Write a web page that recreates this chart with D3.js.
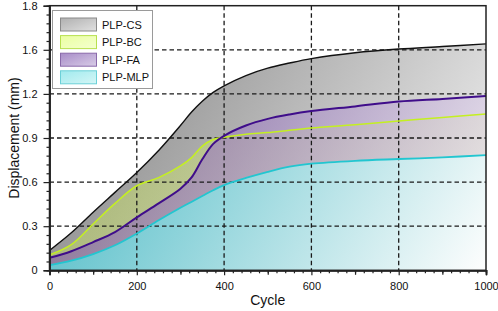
<!DOCTYPE html>
<html><head><meta charset="utf-8">
<script src="https://cdn.jsdelivr.net/npm/d3@7/dist/d3.min.js"></script>
<style>body{margin:0;background:#fff;}svg{display:block;font-family:"Liberation Sans",Arial,sans-serif;}</style>
</head><body><svg id="c" width="498" height="311"></svg>
<script>
const cycles = [0,50,100,150,200,250,300,325,350,375,400,450,500,550,600,700,800,900,1000];
const cs  = [0.135,0.255,0.395,0.53,0.665,0.815,0.985,1.075,1.15,1.21,1.255,1.325,1.375,1.41,1.44,1.48,1.505,1.522,1.54];
const bc  = [0.105,0.175,0.315,0.455,0.575,0.63,0.71,0.765,0.845,0.89,0.905,0.925,0.937,0.953,0.968,0.99,1.015,1.04,1.063];
const fa  = [0.085,0.13,0.192,0.26,0.36,0.455,0.555,0.63,0.755,0.86,0.915,0.985,1.03,1.06,1.083,1.115,1.148,1.166,1.185];
const mlp = [0.035,0.065,0.11,0.17,0.25,0.34,0.425,0.465,0.505,0.545,0.58,0.628,0.67,0.705,0.725,0.745,0.757,0.768,0.784];
const seriesNames = ["PLP-CS","PLP-BC","PLP-FA","PLP-MLP"];
const xTicks = [0,200,400,600,800,1000];
const yTicks = [0,0.3,0.6,0.9,1.2,1.5,1.8];
const yTickLabels = ["0","0.3","0.6","0.9","1.2","1.6","1.8"];

const svg = d3.select("#c");
const L=49.5, R=486, T=5.7, B=270.3;
const x = d3.scaleLinear().domain([0,1000]).range([L,R]);
const y = d3.scaleLinear().domain([0,1.8]).range([B,T]);
const defs = svg.append("defs");
function grad(id, c0, c1){
  const g = defs.append("linearGradient").attr("id",id).attr("gradientUnits","userSpaceOnUse")
    .attr("x1",L).attr("y1",T).attr("x2",R).attr("y2",B);
  g.append("stop").attr("offset","0").attr("stop-color",c0);
  g.append("stop").attr("offset","1").attr("stop-color",c1);
}
grad("gCS","#7a7a7a","#f4f4f4");
grad("gBC","#c8f030","#e8ff90");
grad("gFA","#5e2f96","#f2ecf6");
grad("gMLP","#2cb8c2","#ffffff");
function sgrad(id,c0,c1){
  const g = defs.append("linearGradient").attr("id",id).attr("x1","0").attr("y1","0").attr("x2","1").attr("y2","1");
  g.append("stop").attr("offset","0").attr("stop-color",c0);
  g.append("stop").attr("offset","1").attr("stop-color",c1);
}
sgrad("sCS","#b0b0b0","#e0e0e0");
sgrad("sBC","#eaffa0","#f4ffd0");
sgrad("sFA","#a88cc8","#d8cce6");
sgrad("sMLP","#a0eaee","#d4f6f6");

const series = [
  {vals:cs, fill:"url(#gCS)", op:1, stroke:"#111111", sw:1.4},
  {vals:bc, fill:"url(#gBC)", op:0.35, stroke:"#c4f020", sw:1.5},
  {vals:fa, fill:"url(#gFA)", op:0.68, stroke:"#3f0d8a", sw:2},
  {vals:mlp, fill:"url(#gMLP)", op:0.92, stroke:"#22c6d0", sw:1.8}
];
const crv = d3.curveCatmullRom.alpha(0.5);
const area = v => d3.area().x((d,i)=>x(cycles[i])).y0(y(0)).y1((d)=>y(d)).curve(crv)(v);
const line = v => d3.line().x((d,i)=>x(cycles[i])).y(d=>y(d)).curve(crv)(v);
series.forEach(s=>{
  svg.append("path").attr("d",area(s.vals)).attr("fill",s.fill).attr("fill-opacity",s.op);
});
// grid
const grid = svg.append("g").attr("stroke","#1a1a1a").attr("stroke-width",1.3).attr("stroke-dasharray","4.5,3");
[0.3,0.6,0.9,1.2,1.5].forEach(v=>grid.append("line").attr("x1",L).attr("x2",R).attr("y1",y(v)).attr("y2",y(v)));
[200,400,600,800].forEach(v=>grid.append("line").attr("x1",x(v)).attr("x2",x(v)).attr("y1",T).attr("y2",B));
series.forEach(s=>{
  svg.append("path").attr("d",line(s.vals)).attr("fill","none").attr("stroke",s.stroke).attr("stroke-width",s.sw);
});
// legend
const lg = svg.append("g");
lg.append("rect").attr("x",52.5).attr("y",10.5).attr("width",100).attr("height",78).attr("fill","#fff").attr("stroke","#9a9a9a");
const sw = [["url(#sCS)","#8a8a8a"],["url(#sBC)","#b8e050"],["url(#sFA)","#8a6aaa"],["url(#sMLP)","#6cd0d8"]];
seriesNames.forEach((n,i)=>{
  const cy = 24.5 + i*17.6;
  lg.append("rect").attr("x",60.5).attr("y",cy-6.5).attr("width",36).attr("height",13).attr("fill",sw[i][0]).attr("stroke",sw[i][1]);
  lg.append("text").attr("x",102).attr("y",cy+4).attr("font-size","11px").attr("fill","#111").text(n);
});
// frame
svg.append("rect").attr("x",L).attr("y",T).attr("width",R-L).attr("height",B-T).attr("fill","none").attr("stroke","#222").attr("stroke-width",1.5);
// axes
svg.append("g").attr("transform",`translate(0,${B})`)
  .call(d3.axisBottom(x).tickValues(xTicks).tickSize(5).tickPadding(6.5).tickFormat(d3.format("d")));
svg.append("g").attr("transform",`translate(0,${B})`)
  .call(d3.axisBottom(x).tickValues(d3.range(0,1001,20).filter(v=>v%200)).tickSize(3).tickFormat(""));
svg.append("g").attr("transform",`translate(0,${B})`)
  .call(d3.axisBottom(x).tickValues([100,300,500,700,900]).tickSize(4.5).tickFormat(""));
svg.append("g").attr("transform",`translate(${L},0)`)
  .call(d3.axisLeft(y).tickValues(yTicks).tickSize(6).tickPadding(6).tickFormat((d,i)=>yTickLabels[i]));
svg.append("g").attr("transform",`translate(${L},0)`)
  .call(d3.axisLeft(y).tickValues(d3.range(0,91).map(i=>i*0.06).filter(v=>v<=1.8001 && Math.abs(v/0.3-Math.round(v/0.3))>0.01)).tickSize(3).tickFormat(""));
svg.selectAll(".domain").attr("stroke","#222").attr("stroke-width",1.5);
svg.selectAll(".tick line").attr("stroke","#222").attr("stroke-width",1.2);
svg.selectAll(".tick text").attr("font-size","11px").attr("fill","#111").attr("font-family","'Liberation Sans',Arial,sans-serif");
svg.append("text").attr("x",x(500)).attr("y",305).attr("text-anchor","middle").attr("font-size","14px").attr("fill","#111").text("Cycle");
svg.append("text").attr("transform",`translate(19,${(T+B)/2}) rotate(-90)`).attr("text-anchor","middle").attr("font-size","14px").attr("fill","#111").text("Displacement (mm)");
</script></body></html>
